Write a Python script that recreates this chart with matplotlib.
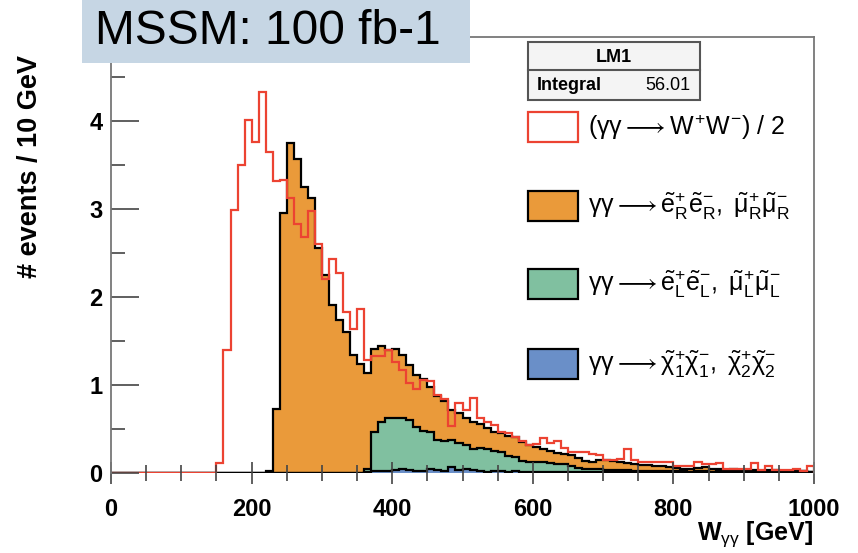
import matplotlib
matplotlib.use("Agg")
import matplotlib.pyplot as plt
from matplotlib.patches import Rectangle
from matplotlib.lines import Line2D
import numpy as np

plt.rcParams['font.family'] = ['Liberation Sans', 'DejaVu Sans']
plt.rcParams['mathtext.fontset'] = 'custom'
plt.rcParams['mathtext.rm'] = 'Liberation Sans'
plt.rcParams['mathtext.it'] = 'Liberation Sans'
plt.rcParams['mathtext.bf'] = 'Liberation Sans:bold'

# 10 GeV bins from 0 to 1000
bin_edges = np.arange(0, 1010, 10)

# (gamma gamma -> W+W-) / 2
ww_half = [0.0] * 15 + [
    0.11, 1.40, 2.99, 3.50, 4.01, 3.76, 4.32, 3.65, 3.31, 3.33,
    3.12, 2.83, 2.68, 2.97, 2.60, 2.20, 2.43, 2.27, 1.83, 1.64,
    1.86, 1.28, 1.33, 1.33, 1.40, 1.26, 1.17, 1.02, 0.95, 1.06,
    1.05, 0.89, 0.84, 0.53, 0.80, 0.72, 0.85, 0.62, 0.58, 0.55,
    0.47, 0.45, 0.41, 0.36, 0.32, 0.33, 0.40, 0.34, 0.36, 0.28,
    0.24, 0.24, 0.24, 0.22, 0.20, 0.15, 0.15, 0.16, 0.27, 0.15,
    0.13, 0.12, 0.13, 0.13, 0.12, 0.08, 0.08, 0.08, 0.13, 0.10,
    0.10, 0.11, 0.05, 0.05, 0.05, 0.05, 0.11, 0.03, 0.08, 0.03,
    0.03, 0.03, 0.05, 0.02, 0.08]

# right-handed sleptons
slep_R = [0.0] * 22 + [
    0.02, 0.73, 2.95, 3.75, 3.57, 3.25, 3.12, 2.55, 2.25, 1.91,
    1.74, 1.60, 1.34, 1.24, 1.10, 0.94, 0.86, 0.77, 0.78, 0.72,
    0.63, 0.59, 0.59, 0.52, 0.49, 0.46, 0.34, 0.34, 0.31, 0.31,
    0.28, 0.24, 0.21, 0.21, 0.23, 0.23, 0.21, 0.19, 0.18, 0.15,
    0.14, 0.13, 0.12, 0.12, 0.11, 0.09, 0.09, 0.11, 0.12, 0.11,
    0.10, 0.08, 0.08, 0.07, 0.07, 0.06, 0.06, 0.05, 0.04, 0.03,
    0.04, 0.04, 0.05, 0.04, 0.03, 0.02, 0.02, 0.01, 0.02, 0.01,
    0.01, 0.02, 0.01, 0.01, 0.00, 0.01, 0.00, 0.00]

# left-handed sleptons
slep_L = [0.0] * 36 + [
    0.03, 0.45, 0.56, 0.61, 0.60, 0.58, 0.57, 0.50, 0.46, 0.42,
    0.35, 0.34, 0.31, 0.31, 0.27, 0.24, 0.26, 0.26, 0.23, 0.22,
    0.18, 0.16, 0.13, 0.12, 0.11, 0.11, 0.10, 0.09, 0.09, 0.07,
    0.05, 0.04, 0.03, 0.03, 0.02, 0.02, 0.02, 0.02, 0.01, 0.01,
    0.01, 0.01, 0.01, 0.01, 0.01, 0.01, 0.00, 0.01, 0.01, 0.00,
    0.01, 0.00, 0.01, 0.00, 0.00, 0.01, 0.00, 0.00, 0.01, 0.00,
    0.00, 0.00, 0.01, 0.00]

# charginos
chargino = [0.0] * 36 + [
    0.01, 0.02, 0.02, 0.02, 0.03, 0.04, 0.03, 0.02, 0.02, 0.04,
    0.03, 0.02, 0.07, 0.03, 0.05, 0.03, 0.02, 0.01, 0.02, 0.02,
    0.01, 0.02, 0.01, 0.01, 0.01, 0.01, 0.01, 0.01, 0.01, 0.01,
    0.01, 0.01, 0.01, 0.01, 0.01, 0.01, 0.01, 0.01, 0.01, 0.01,
    0.01, 0.01, 0.01, 0.01, 0.01, 0.01, 0.01, 0.01, 0.01, 0.01,
    0.01, 0.01, 0.01, 0.01, 0.01, 0.01, 0.01, 0.01, 0.01, 0.01,
    0.01, 0.01, 0.01, 0.01]

legend_labels = [
    r'$(\gamma\gamma \longrightarrow W^{+}W^{-})\ /\ 2$',
    r'$\gamma\gamma \longrightarrow \tilde{e}^{+}_{R}\tilde{e}^{-}_{R},\ \tilde{\mu}^{+}_{R}\tilde{\mu}^{-}_{R}$',
    r'$\gamma\gamma \longrightarrow \tilde{e}^{+}_{L}\tilde{e}^{-}_{L},\ \tilde{\mu}^{+}_{L}\tilde{\mu}^{-}_{L}$',
    r'$\gamma\gamma \longrightarrow \tilde{\chi}^{+}_{1}\tilde{\chi}^{-}_{1},\ \tilde{\chi}^{+}_{2}\tilde{\chi}^{-}_{2}$',
]

c_orange = '#ea9a3a'
c_green = '#80c0a0'
c_blue = '#6a8fc8'
c_red = '#ec4332'

W, H = 858, 553
fig = plt.figure(figsize=(W / 100, H / 100), dpi=100)
ax = fig.add_axes([111 / W, 1 - 473 / H, 703 / W, 436 / H])

top_blue = np.array(chargino)
top_green = top_blue + np.array(slep_L)
top_orange = top_green + np.array(slep_R)

for top, col in [(top_orange, c_orange), (top_green, c_green), (top_blue, c_blue)]:
    ax.stairs(top, bin_edges, fill=True, color=col, lw=0)
    ax.stairs(top, bin_edges, baseline=0, color='black', lw=1.6)
ax.stairs(ww_half, bin_edges, baseline=0, color=c_red, lw=1.6)

ax.set_xlim(0, 1000)
ax.set_ylim(0, 4.95)
ax.set_xticks([0, 200, 400, 600, 800, 1000])
ax.set_xticks(np.arange(0, 1001, 50), minor=True)
ax.set_yticks([0, 1, 2, 3, 4])
ax.set_yticks(np.arange(0, 4.9, 0.5), minor=True)
ax.tick_params(axis='x', which='major', direction='inout', length=16, width=1.2, color='#444',
               labelsize=17, pad=10)
ax.tick_params(axis='x', which='minor', direction='inout', length=12, width=1.2, color='#444')
ax.tick_params(axis='y', which='major', direction='in', length=20, width=1.2, color='#444',
               labelsize=17, pad=6)
ax.tick_params(axis='y', which='minor', direction='in', length=10, width=1.2, color='#444')
for lab in ax.get_xticklabels() + ax.get_yticklabels():
    lab.set_fontweight('bold')
for s in ax.spines.values():
    s.set_color('#777777')
    s.set_linewidth(1.3)
ax.spines['bottom'].set_visible(False)

fig.text(813 / W, 1 - 534 / H, r'W$_{\gamma\gamma}$ [GeV]', ha='right', va='center',
         fontsize=18, fontweight='bold')
fig.text(30 / W, 1 - 55 / H, '# events / 10 GeV', rotation=90, ha='center', va='top',
         fontsize=19.5, fontweight='bold')

# title box
fig.patches.append(Rectangle((82 / W, 1 - 63 / H), 388 / W, 63 / H, transform=fig.transFigure,
                             facecolor='#c6d6e4', edgecolor='none', zorder=5))
fig.text(95 / W, 1 - 31 / H, 'MSSM: 100 fb-1', ha='left', va='center', fontsize=34.5, zorder=6)

# stats box
fig.patches.append(Rectangle((528 / W, 1 - 100 / H), 172 / W, 58 / H, transform=fig.transFigure,
                             facecolor='#f4f4f4', edgecolor='#555555', lw=1.5, zorder=5))
fig.add_artist(Line2D([528 / W, 700 / W], [1 - 70 / H, 1 - 70 / H], color='#555555', lw=1.5,
                      transform=fig.transFigure, zorder=6))
fig.text(614 / W, 1 - 57 / H, 'LM1', ha='center', va='center', fontsize=13, fontweight='bold', zorder=7)
fig.text(537 / W, 1 - 86 / H, 'Integral', ha='left', va='center', fontsize=13, fontweight='bold', zorder=7)
fig.text(690 / W, 1 - 86 / H, '56.01', ha='right', va='center', fontsize=13, zorder=7)

# legend
entry_y = [127, 206, 284, 364]
entry_face = ['white', c_orange, c_green, c_blue]
entry_edge = [c_red, 'black', 'black', 'black']
for y, fc, ec, lab in zip(entry_y, entry_face, entry_edge, legend_labels):
    fig.patches.append(Rectangle((528 / W, 1 - (y + 15) / H), 50 / W, 30 / H,
                                 transform=fig.transFigure, facecolor=fc, edgecolor=ec,
                                 lw=1.6, zorder=5))
    fig.text(588 / W, 1 - y / H, lab, ha='left', va='center', fontsize=18, zorder=6)

fig.savefig('out.png', dpi=100)
